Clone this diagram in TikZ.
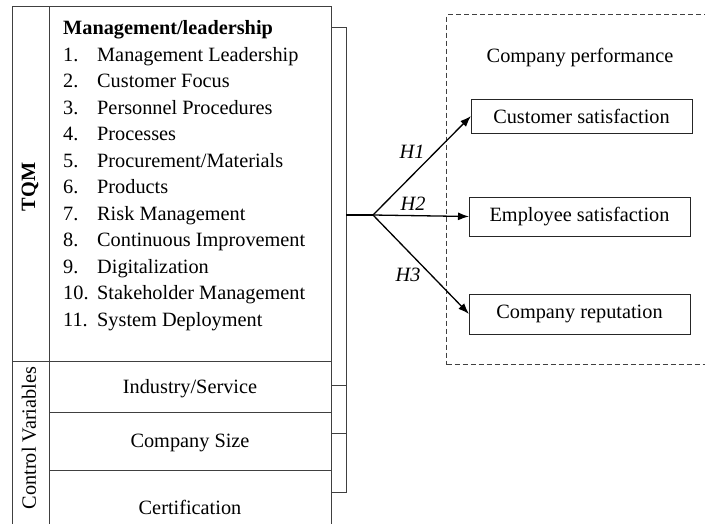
\documentclass[tikz,border=0pt]{standalone}
\usepackage{fontspec}
\setmainfont{Liberation Serif}
\usetikzlibrary{arrows.meta}
\begin{document}
\begin{tikzpicture}[x=1pt,y=-1pt,
  font=\fontsize{20.3}{24}\selectfont,
  cell/.style={draw=black!75, line width=1pt, inner sep=0pt, outer sep=0pt, anchor=north west},
  txt/.style={inner sep=0pt, anchor=base west},
  ctxt/.style={inner sep=0pt, anchor=base},
  brk/.style={draw=black!75, line width=1pt},
  outbox/.style={draw=black!85, line width=1pt, inner sep=0pt, outer sep=0pt},
  arr/.style={line width=1.3pt, -{Latex[length=11pt,width=8pt]}},
  hyp/.style={font=\fontsize{20.3}{24}\selectfont\itshape, inner sep=0pt}]
\useasboundingbox (0,0) rectangle (705,523);
\clip (0,0) rectangle (705,523);
% left block
\node[cell, minimum width=37pt, minimum height=355pt] (tqml) at (12,6) {};
\node[cell, minimum width=282pt, minimum height=355pt] (tqm) at (49,6) {};
\node[cell, minimum width=37pt, minimum height=180pt] (cvl) at (12,361) {};
\node[cell, minimum width=282pt, minimum height=51pt] (ind) at (49,361) {};
\node[cell, minimum width=282pt, minimum height=58pt] (size) at (49,412) {};
\node[cell, minimum width=282pt, minimum height=70pt] (cert) at (49,470) {};
\node[rotate=90, inner sep=0pt, font=\fontsize{20.3}{24}\selectfont\bfseries] (tqmt) at (30,187) {TQM};
\node[rotate=90, inner sep=0pt] (cvt) at (29,438) {Control Variables};
% list
\node[txt, font=\fontsize{20.3}{24}\selectfont\bfseries] (hdr) at (63,34.5) {Management/leadership};
\foreach \n/\t [count=\i from 0] in {1/{Management Leadership}, 2/{Customer Focus}, 3/{Personnel Procedures}, 4/{Processes}, 5/{Procurement/Materials}, 6/{Products}, 7/{Risk Management}, 8/{Continuous Improvement}, 9/{Digitalization}}{
  \node[txt] (num\n) at (63,61+26.5*\i) {\n.};
  \node[txt] (item\n) at (97,61+26.5*\i) {\t};
}
\node[txt] (num10) at (63,299.5) {10.};
\node[txt] (item10) at (97,299.5) {Stakeholder Management};
\node[txt] (num11) at (63,326) {11.};
\node[txt] (item11) at (97,326) {System Deployment};
% control variable texts
\node[ctxt] (indt) at (190,393) {Industry/Service};
\node[ctxt] (sizet) at (190,447) {Company Size};
\node[ctxt] (certt) at (190,514) {Certification};
% bracket
\coordinate (b1) at (346,27);
\coordinate (b2) at (346,385);
\coordinate (b3) at (346,433);
\coordinate (b4) at (346,492);
\coordinate (bm) at (346,215);
\coordinate (j) at (373,215);
\draw[brk] (tqm.east |- b1) -- (b1) -- (b4) -- (tqm.east |- b4);
\draw[brk] (b2) -- (tqm.east |- b2);
\draw[brk] (b3) -- (tqm.east |- b3);
\draw[line width=1.3pt] (bm) -- (j);
% performance
\node[draw=black!75, dash pattern=on 5pt off 3pt, line width=1pt, inner sep=0pt, anchor=north west, minimum width=280pt, minimum height=350pt] (perf) at (446,14) {};
\node[ctxt] (perft) at (580,62) {Company performance};
\node[outbox, minimum width=221pt, minimum height=34pt] (cs) at (581.5,116) {Customer satisfaction};
\node[outbox, minimum width=221pt, minimum height=39pt] (es) at (579.5,216.5) {Employee satisfaction};
\node[outbox, minimum width=221pt, minimum height=40pt] (cr) at (579.5,314) {Company reputation};
\draw[arr] (j) -- (cs.west);
\draw[arr] (j) -- (es.west);
\draw[arr] (j) -- (cr.west);
\node[hyp] (h1) at (412,152) {H1};
\node[hyp] (h2) at (413,204) {H2};
\node[hyp] (h3) at (408,275) {H3};
\end{tikzpicture}
\end{document}
